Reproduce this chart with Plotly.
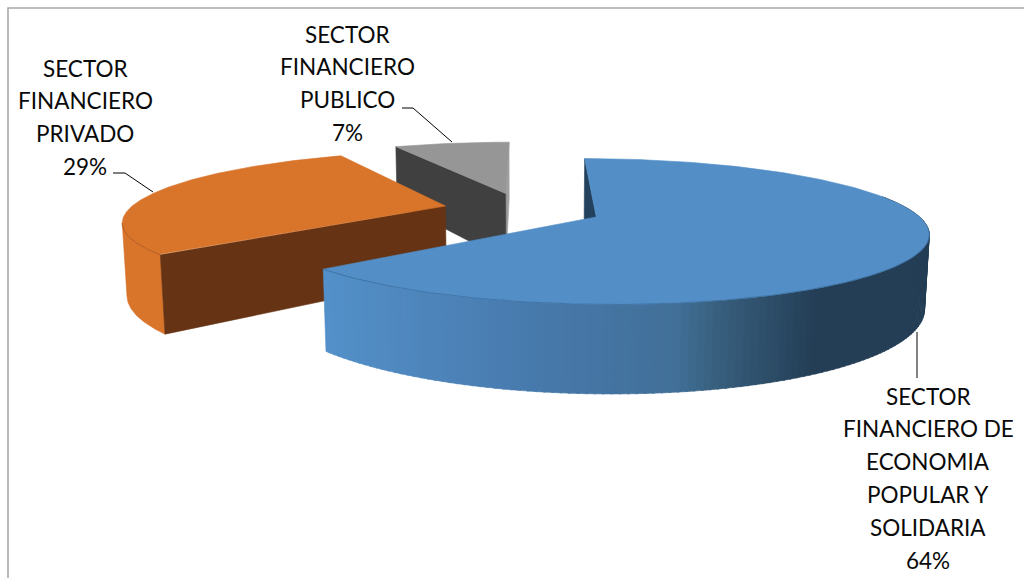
import math
import plotly.graph_objects as go

# Market share by financial sector; labels show the shares rounded to whole percents
categories = ["SECTOR FINANCIERO DE ECONOMIA POPULAR Y SOLIDARIA",
              "SECTOR FINANCIERO PRIVADO",
              "SECTOR FINANCIERO PUBLICO"]
shares = [63.8, 29.0, 7.2]
label_lines = [["SECTOR", "FINANCIERO DE", "ECONOMIA", "POPULAR Y", "SOLIDARIA"],
               ["SECTOR", "FINANCIERO", "PRIVADO"],
               ["SECTOR", "FINANCIERO", "PUBLICO"]]

top_colors = ["#538EC7", "#D9742B", "#969696"]
cut_colors = ["#23415C", "#663414", "#404040"]
side_colors = ["#5390C9", "#D9742B", "#A0A0A0"]
edge_colors = ["#3B6F9F", "#A9581F", "#808080"]

# Shading stops along the front wall of the largest slice
grad_x = [322, 540, 676, 715, 814]
grad_colors = ["#5390C9", "#4779AB", "#416F98", "#38607F", "#243E56"]

# Camera model for the tilted, exploded pie (pixel canvas units)
VP_X, VP_Y = 531.0, -132.0
Q0, QC, ALPHA = 0.002928, 0.000575, 0.904
EXPLODE = 0.258
OFFSET_U = -0.0275
RADIUS_U = 1.025
FIRST_ANGLE = math.radians(-0.15)
HEIGHT = 0.205
SQUEEZE = 0.0027


def top_point(u, v):
    q = Q0 + QC * v
    return VP_X + ALPHA * u / q, VP_Y + 1.0 / q


def base_point(u, v):
    x, y = top_point(u, v)
    lift = HEIGHT * (y - VP_Y)
    return x + (VP_X - x) * SQUEEZE * lift / 17.0, y + lift


def rim(theta, centre):
    return centre[0] + RADIUS_U * math.sin(theta), centre[1] + math.cos(theta)


def arc(a, b, n=120):
    return [a + (b - a) * i / n for i in range(n + 1)]


def mix(c1, c2, t):
    a = [int(c1[i:i + 2], 16) for i in (1, 3, 5)]
    b = [int(c2[i:i + 2], 16) for i in (1, 3, 5)]
    return "rgb(%d,%d,%d)" % tuple(round(p + (r - p) * t) for p, r in zip(a, b))


def shade(x):
    if x <= grad_x[0]:
        return mix(grad_colors[0], grad_colors[0], 0)
    for i in range(len(grad_x) - 1):
        if x <= grad_x[i + 1]:
            return mix(grad_colors[i], grad_colors[i + 1], (x - grad_x[i]) / (grad_x[i + 1] - grad_x[i]))
    return mix(grad_colors[-1], grad_colors[-1], 0)


def poly(points, color, line=None, width=0.6):
    xs, ys = zip(*points)
    return go.Scatter(x=list(xs) + [xs[0]], y=list(ys) + [ys[0]], mode="lines",
                      fill="toself", fillcolor=color,
                      line=dict(color=line or color, width=width),
                      hoverinfo="skip", showlegend=False)


def stroke(points, color, width=1.0):
    xs, ys = zip(*points)
    return go.Scatter(x=list(xs), y=list(ys), mode="lines",
                      line=dict(color=color, width=width),
                      hoverinfo="skip", showlegend=False)


# Slice geometry derived from the shares, clockwise from twelve o'clock
total = sum(shares)
slices = []
start = FIRST_ANGLE
for value in shares:
    sweep = 2 * math.pi * value / total
    mid = start + sweep / 2
    centre = (OFFSET_U + EXPLODE * math.sin(mid), EXPLODE * math.cos(mid))
    slices.append(dict(a=start, b=start + sweep, centre=centre))
    start += sweep

traces = []

# Public sector, furthest back
s = slices[2]
c = s["centre"]
outer_a, outer_b = rim(s["a"], c), rim(s["b"], c)
traces.append(poly([top_point(*c), top_point(*outer_b), base_point(*outer_b), base_point(*c)], side_colors[2]))
traces.append(poly([top_point(*outer_a), top_point(*c), base_point(*c), base_point(*outer_a)], cut_colors[2]))
traces.append(poly([top_point(*c)] + [top_point(*rim(t, c)) for t in arc(s["a"], s["b"])], top_colors[2]))

# Private sector: the wall runs up to the silhouette on the far left
s = slices[1]
c = s["centre"]
sweep_angles = arc(s["a"], s["b"], 240)
left_end = min(sweep_angles, key=lambda t: top_point(*rim(t, c))[0])
wall = arc(s["a"], left_end)
traces.append(poly([top_point(*rim(t, c)) for t in wall] + [base_point(*rim(t, c)) for t in reversed(wall)],
                   side_colors[1]))
outer_a = rim(s["a"], c)
traces.append(poly([top_point(*c), top_point(*outer_a), base_point(*outer_a), base_point(*c)], cut_colors[1]))
traces.append(poly([top_point(*c)] + [top_point(*rim(t, c)) for t in sweep_angles], top_colors[1]))
traces.append(stroke([top_point(*rim(t, c)) for t in wall], edge_colors[1], 0.8))

# Popular and solidarity economy sector, nearest the viewer
s = slices[0]
c = s["centre"]
outer_a = rim(s["a"], c)
traces.append(poly([top_point(*outer_a), top_point(*c), base_point(*c), base_point(*outer_a)], cut_colors[0]))

wall_start = math.radians(72)
strips = 130
for i in range(strips):
    t0 = wall_start + (s["b"] - wall_start) * i / strips
    t1 = min(wall_start + (s["b"] - wall_start) * (i + 1.25) / strips, s["b"])
    pts = [top_point(*rim(t0, c)), top_point(*rim(t1, c)), base_point(*rim(t1, c)), base_point(*rim(t0, c))]
    traces.append(poly(pts, shade((pts[0][0] + pts[1][0]) / 2)))

traces.append(poly([top_point(*c)] + [top_point(*rim(t, c)) for t in arc(s["a"], s["b"], 240)], top_colors[0]))
traces.append(stroke([top_point(*rim(t, c)) for t in arc(math.radians(100), s["b"], 160)], edge_colors[0], 0.8))

# Leader lines from each label to its slice
traces.append(stroke([(917, 332), (917, 378)], "#404040", 1.3))
traces.append(stroke([(113, 173), (125, 173), (153, 192)], "#000000", 1.0))
traces.append(stroke([(402, 108), (413, 108), (452, 142)], "#000000", 1.0))

FONT = dict(family="Lato, Carlito, sans-serif", size=22.5, color="#0A0A0A")
LINE_STEP = 32.9
label_anchor = [(928, 396), (85, 68), (347, 34)]
annotations = []
for lines, value, (ax, ay) in zip(label_lines, shares, label_anchor):
    for i, text in enumerate(lines + [f"{round(value)}%"]):
        annotations.append(dict(x=ax, y=ay + i * LINE_STEP, text=text, showarrow=False,
                                xanchor="center", yanchor="middle", font=FONT,
                                xref="x", yref="y"))

fig = go.Figure(traces)
fig.update_layout(
    width=1024, height=578, margin=dict(l=0, r=0, t=0, b=0),
    paper_bgcolor="white", plot_bgcolor="white", showlegend=False,
    xaxis=dict(range=[0, 1024], visible=False, fixedrange=True),
    yaxis=dict(range=[578, 0], visible=False, fixedrange=True),
    annotations=annotations,
    shapes=[dict(type="rect", x0=8, y0=8, x1=1060, y1=600, xref="x", yref="y",
                 line=dict(color="#A6A6A6", width=1.5), layer="below")],
)
fig.write_html("out.html", config=dict(displayModeBar=False))
